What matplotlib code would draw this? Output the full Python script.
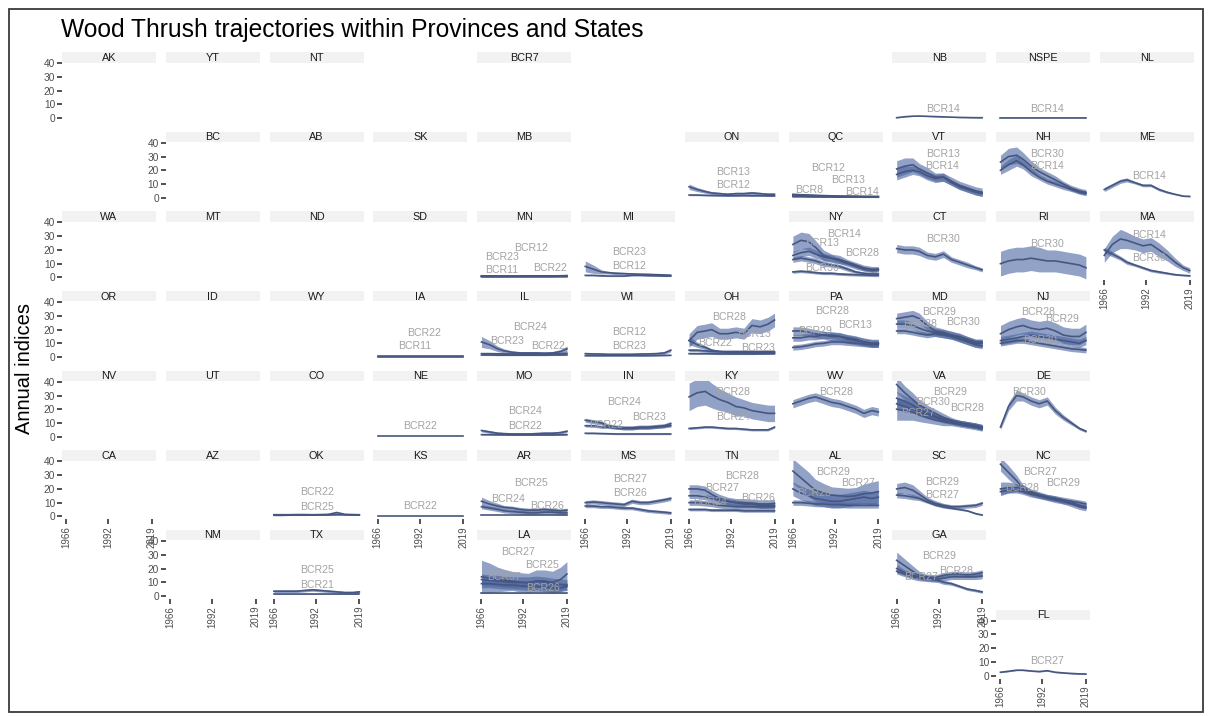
import matplotlib
matplotlib.use("Agg")
import matplotlib.pyplot as plt
from matplotlib.patches import Rectangle
import numpy as np

plt.rcParams['font.family'] = ['Liberation Sans', 'DejaVu Sans']

# ---------------- data ----------------
YEARS = [1966, 1971, 1976, 1980, 1985, 1990, 1995, 2000, 2005, 2010, 2015, 2019]

NB_BCR14 = [0.3, 1.0, 1.4, 1.5, 1.3, 1.1, 0.9, 0.7, 0.5, 0.4, 0.3, 0.3]
NB_BCR14_CI = [0.2, 0.2, 0.2, 0.2, 0.2, 0.2, 0.2, 0.2, 0.2, 0.2, 0.2, 0.2]
NSPE_BCR14 = [0.4, 0.4, 0.4, 0.4, 0.4, 0.4, 0.4, 0.4, 0.4, 0.4, 0.4, 0.4]
NSPE_BCR14_CI = [0.1, 0.1, 0.1, 0.1, 0.1, 0.1, 0.1, 0.1, 0.1, 0.1, 0.1, 0.1]

ON_BCR13 = [8, 6, 4.5, 3.5, 3, 2.5, 3, 3, 3.5, 3, 2.5, 2.5]
ON_BCR13_CI = [2, 1.5, 1.2, 1, 1, 1, 1, 1, 1, 1, 1, 1]
ON_BCR12 = [2, 2, 1.8, 1.7, 1.6, 1.5, 1.5, 1.6, 1.5, 1.5, 1.4, 1.4]
ON_BCR12_CI = [0.5, 0.5, 0.5, 0.5, 0.5, 0.5, 0.5, 0.5, 0.5, 0.5, 0.5, 0.5]

QC_BCR8 = [2.5, 2.2, 2.0, 1.8, 1.6, 1.4, 1.2, 1.1, 1.0, 0.9, 0.8, 0.7]
QC_BCR8_CI = [0.8, 0.8, 0.7, 0.7, 0.6, 0.6, 0.5, 0.5, 0.5, 0.5, 0.5, 0.5]
QC_BCR12 = [1.5, 1.4, 1.3, 1.2, 1.2, 1.1, 1.0, 1.0, 1.0, 0.9, 0.9, 0.9]
QC_BCR12_CI = [0.4, 0.4, 0.4, 0.4, 0.4, 0.4, 0.4, 0.4, 0.4, 0.4, 0.4, 0.4]
QC_BCR13 = [1.2, 1.2, 1.1, 1.0, 1.0, 1.0, 0.9, 0.9, 0.8, 0.8, 0.8, 0.8]
QC_BCR13_CI = [0.4, 0.4, 0.4, 0.4, 0.4, 0.4, 0.4, 0.4, 0.4, 0.4, 0.4, 0.4]
QC_BCR14 = [0.8, 0.8, 0.7, 0.7, 0.6, 0.6, 0.5, 0.5, 0.5, 0.4, 0.4, 0.4]
QC_BCR14_CI = [0.2, 0.2, 0.2, 0.2, 0.2, 0.2, 0.2, 0.2, 0.2, 0.2, 0.2, 0.2]

VT_BCR13 = [21, 23, 24, 21, 18, 15, 15, 12, 9, 7, 5, 4]
VT_BCR13_CI = [6, 6, 5, 4, 4, 3, 3, 3, 3, 3, 3, 3]
VT_BCR14 = [17, 19, 20, 19, 16, 14, 15, 11, 8, 6, 4, 3]
VT_BCR14_CI = [4, 4, 3, 3, 3, 3, 3, 2, 2, 2, 2, 2]

NH_BCR30 = [26, 30, 31, 28, 23, 19, 16, 13, 10, 7, 5, 4]
NH_BCR30_CI = [5, 6, 6, 5, 4, 3, 3, 3, 2, 2, 2, 2]
NH_BCR14 = [20, 24, 27, 24, 19, 15, 12, 10, 8, 6, 4, 3]
NH_BCR14_CI = [3, 4, 4, 3, 3, 2, 2, 2, 2, 1.5, 1.5, 1.5]

ME_BCR14 = [6, 9, 12, 13, 11, 9, 9, 6, 4, 2.5, 1.2, 1]
ME_BCR14_CI = [1.5, 1.5, 1.5, 1.5, 1, 1, 1, 1, 0.8, 0.5, 0.4, 0.4]

MN_BCR11 = [0.4, 0.4, 0.4, 0.4, 0.4, 0.4, 0.4, 0.4, 0.4, 0.4, 0.5, 0.5]
MN_BCR11_CI = [0.2, 0.2, 0.2, 0.2, 0.2, 0.2, 0.2, 0.2, 0.2, 0.2, 0.2, 0.2]
MN_BCR12 = [1.0, 1.0, 0.9, 0.9, 0.9, 1.0, 1.0, 1.1, 1.0, 1.0, 1.1, 1.2]
MN_BCR12_CI = [0.3, 0.3, 0.3, 0.3, 0.3, 0.3, 0.3, 0.3, 0.3, 0.3, 0.3, 0.3]
MN_BCR22 = [0.8, 0.8, 0.8, 0.9, 0.9, 1.0, 1.0, 1.0, 1.1, 1.1, 1.2, 1.3]
MN_BCR22_CI = [0.3, 0.3, 0.3, 0.3, 0.3, 0.3, 0.3, 0.3, 0.3, 0.3, 0.3, 0.3]
MN_BCR23 = [1.2, 1.1, 1.0, 1.0, 0.9, 0.9, 0.9, 1.0, 1.0, 1.0, 1.1, 1.2]
MN_BCR23_CI = [0.3, 0.3, 0.3, 0.3, 0.3, 0.3, 0.3, 0.3, 0.3, 0.3, 0.3, 0.3]

MI_BCR12 = [8, 6, 4, 3.5, 3, 2.8, 2.5, 2.3, 2.2, 2.0, 1.8, 1.6]
MI_BCR12_CI = [4, 3, 1.5, 1, 1, 0.8, 0.8, 0.8, 0.8, 0.7, 0.6, 0.6]
MI_BCR23 = [1.5, 1.5, 1.2, 1.0, 1.0, 1.0, 1.5, 1.5, 1.3, 1.2, 1.0, 1.0]
MI_BCR23_CI = [0.4, 0.4, 0.4, 0.4, 0.4, 0.4, 0.4, 0.4, 0.4, 0.4, 0.4, 0.4]

NY_BCR14 = [24, 27, 26, 22, 16, 14, 13, 11, 9, 7, 6, 6]
NY_BCR14_CI = [6, 6, 6, 5, 4, 3, 3, 2, 2, 2, 2, 2]
NY_BCR13 = [13, 14, 13, 12, 10, 9, 8, 6, 4, 3, 2.5, 2.5]
NY_BCR13_CI = [2, 2, 2, 2, 2, 1.5, 1.5, 1.5, 1, 1, 1, 1]
NY_BCR28 = [16, 18, 19, 17, 15, 14, 12, 10, 8, 6, 5, 5.5]
NY_BCR28_CI = [3, 3, 3, 3, 2.5, 2.5, 2, 2, 2, 1.5, 1.5, 1.5]
NY_BCR30 = [4, 4.5, 4, 3.5, 3, 3, 2.5, 2.2, 2.0, 1.8, 1.6, 1.5]
NY_BCR30_CI = [1, 1, 1, 1, 1, 1, 1, 1, 1, 1, 1, 1]

CT_BCR30 = [21, 20, 20, 19, 16, 15, 17, 13, 11, 9, 7, 5.5]
CT_BCR30_CI = [3, 3, 3, 3, 2.5, 2.5, 2.5, 2, 2, 2, 1.5, 1.5]

RI_BCR30 = [10, 12, 13, 13, 14, 13, 12, 12, 11, 10, 9, 7]
RI_BCR30_CI = [9, 9, 9, 9, 9, 9, 8, 8, 8, 8, 8, 8]

MA_BCR14 = [16, 24, 28, 27, 25, 23, 24, 20, 16, 11, 7, 5]
MA_BCR14_CI = [5, 6, 7, 6, 5, 5, 5, 5, 4, 3, 2, 2]
MA_BCR30 = [20, 17, 14, 11, 9, 7, 5, 4, 3, 2, 1.5, 1.2]
MA_BCR30_CI = [2, 2, 1.5, 1.5, 1, 1, 1, 1, 0.8, 0.6, 0.5, 0.5]

IA_BCR22 = [0.6, 0.6, 0.6, 0.6, 0.6, 0.6, 0.6, 0.6, 0.6, 0.6, 0.6, 0.6]
IA_BCR22_CI = [0.1, 0.1, 0.1, 0.1, 0.1, 0.1, 0.1, 0.1, 0.1, 0.1, 0.1, 0.1]
IA_BCR11 = [0.4, 0.4, 0.4, 0.4, 0.4, 0.4, 0.4, 0.4, 0.4, 0.4, 0.4, 0.4]
IA_BCR11_CI = [0.1, 0.1, 0.1, 0.1, 0.1, 0.1, 0.1, 0.1, 0.1, 0.1, 0.1, 0.1]

IL_BCR23 = [11, 9, 6, 4.5, 3.5, 3, 3, 3, 2.8, 3, 4, 6]
IL_BCR23_CI = [4, 3, 2, 1.5, 1, 1, 1, 1, 1, 1, 1.5, 2]
IL_BCR24 = [2.5, 2.5, 2.4, 2.3, 2.3, 2.2, 2.2, 2.3, 2.3, 2.4, 2.5, 2.8]
IL_BCR24_CI = [0.6, 0.6, 0.6, 0.6, 0.6, 0.6, 0.6, 0.6, 0.6, 0.6, 0.6, 0.6]
IL_BCR22 = [1.5, 1.5, 1.4, 1.4, 1.4, 1.4, 1.4, 1.4, 1.4, 1.5, 1.5, 1.6]
IL_BCR22_CI = [0.4, 0.4, 0.4, 0.4, 0.4, 0.4, 0.4, 0.4, 0.4, 0.4, 0.4, 0.4]

WI_BCR12 = [2.5, 2.3, 2.2, 2.0, 2.0, 2.0, 2.0, 2.2, 2.3, 2.5, 3.0, 5.0]
WI_BCR12_CI = [0.8, 0.8, 0.8, 0.8, 0.8, 0.8, 0.8, 0.8, 0.8, 0.8, 1.0, 1.2]
WI_BCR23 = [1.0, 1.0, 1.0, 1.0, 1.0, 1.0, 1.0, 1.0, 1.0, 1.1, 1.2, 1.3]
WI_BCR23_CI = [0.3, 0.3, 0.3, 0.3, 0.3, 0.3, 0.3, 0.3, 0.3, 0.3, 0.3, 0.3]

OH_BCR28 = [12, 18, 19, 20, 17, 17, 18, 17, 23, 22, 24, 27]
OH_BCR28_CI = [5, 5, 5, 5, 4, 4, 4, 4, 5, 5, 5, 5]
OH_BCR22 = [12, 9, 7, 5, 4, 3.5, 3.5, 3.5, 3, 3, 3, 3]
OH_BCR22_CI = [3, 2, 1.5, 1, 1, 1, 1, 1, 1, 1, 1, 1]
OH_BCR13 = [5, 5, 4.5, 4, 4, 4, 4, 4, 4, 4, 4, 4]
OH_BCR13_CI = [1, 1, 1, 1, 1, 1, 1, 1, 1, 1, 1, 1]
OH_BCR23 = [2.5, 2.5, 2.5, 2.4, 2.3, 2.3, 2.3, 2.3, 2.3, 2.4, 2.5, 2.6]
OH_BCR23_CI = [0.5, 0.5, 0.5, 0.5, 0.5, 0.5, 0.5, 0.5, 0.5, 0.5, 0.5, 0.5]

PA_BCR29 = [19, 19, 18, 17, 16, 15, 15, 13, 12, 11, 10, 10]
PA_BCR29_CI = [3, 3, 3, 3, 3, 3, 3, 3, 3, 3, 3, 3]
PA_BCR28 = [14, 14, 15, 15, 16, 16, 15, 14, 13, 11, 10, 10]
PA_BCR28_CI = [2.5, 2.5, 2.5, 2.5, 2.5, 2.5, 2.5, 2.5, 2.5, 2.5, 2.5, 2.5]
PA_BCR13 = [7, 7.5, 8.5, 9.5, 10, 11, 11, 10.5, 10, 9.5, 9, 9]
PA_BCR13_CI = [2, 2, 2, 2, 2, 2, 2, 2, 2, 2, 2, 2]

MD_BCR29 = [28, 29, 30, 28, 23, 19, 18, 16, 15, 13, 11, 11]
MD_BCR29_CI = [4, 4, 4, 4, 3, 3, 2.5, 2.5, 2.5, 2, 2, 2]
MD_BCR28 = [24, 24, 23, 21, 19, 18, 17, 16, 14, 12, 10, 10]
MD_BCR28_CI = [3, 3, 3, 3, 3, 3, 3, 3, 3, 3, 3, 3]
MD_BCR30 = [19, 19, 18, 17, 16, 17, 16, 15, 13, 11, 9, 8]
MD_BCR30_CI = [2, 2, 2, 2, 2, 2, 2, 2, 2, 2, 2, 2]

NJ_BCR28 = [17, 20, 22, 23, 21, 20, 21, 19, 16, 15, 15, 18]
NJ_BCR28_CI = [6, 6, 6, 6, 6, 6, 6, 6, 6, 6, 6, 6]
NJ_BCR29 = [12, 13, 14, 15, 16, 15, 14, 13, 12, 11, 10, 12]
NJ_BCR29_CI = [3, 3, 3, 3, 3, 3, 3, 3, 3, 3, 3, 3]
NJ_BCR30 = [10, 11, 12, 12, 11, 10, 9, 8, 7, 6, 5.5, 5]
NJ_BCR30_CI = [2, 2, 2, 2, 2, 2, 2, 2, 2, 2, 2, 2]

NE_BCR22 = [0.5, 0.5, 0.5, 0.5, 0.5, 0.5, 0.5, 0.5, 0.5, 0.5, 0.5, 0.5]
NE_BCR22_CI = [0.1, 0.1, 0.1, 0.1, 0.1, 0.1, 0.1, 0.1, 0.1, 0.1, 0.1, 0.1]

MO_BCR22 = [4.5, 3.5, 2.5, 2.2, 2.0, 2.0, 2.0, 2.2, 2.5, 2.5, 3.0, 4.0]
MO_BCR22_CI = [1, 1, 1, 1, 1, 1, 1, 1, 1, 1, 1, 1]
MO_BCR24 = [1.5, 1.5, 1.4, 1.4, 1.3, 1.3, 1.3, 1.3, 1.3, 1.3, 1.4, 1.5]
MO_BCR24_CI = [0.4, 0.4, 0.4, 0.4, 0.4, 0.4, 0.4, 0.4, 0.4, 0.4, 0.4, 0.4]

IN_BCR23 = [12, 11, 10, 8, 7, 6.5, 6.5, 7, 7, 7.5, 8, 9.5]
IN_BCR23_CI = [1.5, 1.5, 1.5, 1.5, 1.5, 1.5, 1.5, 1.5, 1.5, 1.5, 1.5, 1.5]
IN_BCR24 = [8, 8, 7, 7, 6.5, 6, 6, 6.5, 6.5, 7, 7.5, 8]
IN_BCR24_CI = [1, 1, 1, 1, 1, 1, 1, 1, 1, 1, 1, 1]
IN_BCR22 = [2.5, 2.5, 2.3, 2.2, 2.0, 2.0, 2.0, 2.0, 2.0, 2.0, 2.0, 2.0]
IN_BCR22_CI = [0.5, 0.5, 0.5, 0.5, 0.5, 0.5, 0.5, 0.5, 0.5, 0.5, 0.5, 0.5]

KY_BCR28 = [29, 32, 33, 30, 27, 25, 22, 21, 19, 18, 17, 17]
KY_BCR28_CI = [10, 10, 10, 9, 8, 7, 7, 6, 6, 6, 6, 6]
KY_BCR24 = [6, 6.5, 7, 7, 6.5, 6, 6, 5.5, 5, 5, 5, 7]
KY_BCR24_CI = [0.8, 0.8, 0.8, 0.8, 0.8, 0.8, 0.8, 0.8, 0.8, 0.8, 0.8, 0.8]

WV_BCR28 = [24, 26, 28, 29, 27, 25, 24, 22, 20, 17, 19, 18]
WV_BCR28_CI = [3, 3, 3, 3, 3, 3, 3, 3, 3, 3, 3, 3]

VA_BCR29 = [38, 32, 27, 23, 20, 17, 14, 12, 10, 9, 8, 7]
VA_BCR29_CI = [6, 5, 5, 4, 3, 3, 3, 2, 2, 2, 2, 2]
VA_BCR28 = [28, 26, 23, 20, 17, 15, 13, 11, 10, 9, 8, 6.5]
VA_BCR28_CI = [5, 4, 4, 3, 3, 2, 2, 2, 2, 2, 2, 2]
VA_BCR30 = [24, 22, 20, 18, 16, 14, 12, 11, 10, 9, 8, 7]
VA_BCR30_CI = [4, 4, 3, 3, 3, 2, 2, 2, 2, 2, 2, 2]
VA_BCR27 = [20, 19, 18, 16, 14, 12, 11, 10, 9, 8, 7, 6]
VA_BCR27_CI = [8, 7, 6, 5, 4, 3, 3, 2, 2, 2, 2, 2]

DE_BCR30 = [7, 22, 30, 29, 26, 24, 26, 19, 14, 10, 6, 4]
DE_BCR30_CI = [2, 3, 4, 3, 3, 3, 3, 2.5, 2, 1.5, 1, 1]

OK_BCR22 = [0.8, 0.8, 0.9, 0.9, 0.9, 1.0, 1.0, 1.0, 1.2, 1.1, 1.0, 1.0]
OK_BCR22_CI = [0.3, 0.3, 0.3, 0.3, 0.3, 0.3, 0.3, 0.3, 0.3, 0.3, 0.3, 0.3]
OK_BCR25 = [1.2, 1.2, 1.2, 1.3, 1.3, 1.2, 1.3, 1.5, 2.8, 1.5, 1.3, 1.2]
OK_BCR25_CI = [0.5, 0.5, 0.5, 0.5, 0.5, 0.5, 0.5, 0.5, 0.6, 0.5, 0.5, 0.5]

KS_BCR22 = [0.5, 0.5, 0.5, 0.5, 0.5, 0.5, 0.5, 0.5, 0.5, 0.5, 0.5, 0.5]
KS_BCR22_CI = [0.1, 0.1, 0.1, 0.1, 0.1, 0.1, 0.1, 0.1, 0.1, 0.1, 0.1, 0.1]

AR_BCR24 = [11, 9, 7.5, 6.5, 6, 5, 4.5, 4.5, 5, 4.5, 4, 4.5]
AR_BCR24_CI = [3, 2.5, 2, 1.5, 1.5, 1.5, 1.5, 1.5, 1.5, 1.5, 1.5, 1.5]
AR_BCR25 = [7, 6, 5, 4, 3.5, 3, 2.5, 2.5, 3, 3, 2.5, 2.5]
AR_BCR25_CI = [1.5, 1.5, 1.5, 1.5, 1.5, 1.5, 1.5, 1.5, 1.5, 1.5, 1.5, 1.5]
AR_BCR26 = [1, 1, 1, 1, 1, 1, 1, 1, 1, 1, 1, 1]
AR_BCR26_CI = [0.3, 0.3, 0.3, 0.3, 0.3, 0.3, 0.3, 0.3, 0.3, 0.3, 0.3, 0.3]

MS_BCR26 = [10, 10.5, 10, 9.5, 9, 8.5, 11, 10, 10, 11, 12, 13]
MS_BCR26_CI = [1.5, 1.5, 1.5, 1.5, 1.5, 1.5, 1.5, 1.5, 1.5, 1.5, 1.5, 1.5]
MS_BCR27 = [7.5, 7.5, 7, 7, 6.5, 6, 6, 5, 4, 3.5, 3, 2.5]
MS_BCR27_CI = [1.2, 1.2, 1.2, 1.2, 1.2, 1.2, 1.2, 1.2, 1.2, 1.2, 1.2, 1.2]

TN_BCR27 = [20, 20, 19, 16, 13, 11, 10, 10, 9.5, 9, 9, 9.5]
TN_BCR27_CI = [3, 3, 3, 3, 3, 3, 3, 3, 3, 3, 3, 3]
TN_BCR28 = [15, 15, 14, 13, 12, 11, 10, 9, 9, 8, 8, 8]
TN_BCR28_CI = [2, 2, 2, 2, 2, 2, 2, 2, 2, 2, 2, 2]
TN_BCR24 = [10, 10, 9.5, 9, 8, 7.5, 7, 7, 7, 7, 7, 7]
TN_BCR24_CI = [2, 2, 2, 2, 2, 2, 2, 2, 2, 2, 2, 2]
TN_BCR26 = [5, 5, 5, 4.5, 4.5, 4.5, 4.5, 4, 4, 4, 4, 4]
TN_BCR26_CI = [1, 1, 1, 1, 1, 1, 1, 1, 1, 1, 1, 1]

AL_BCR29 = [33, 28, 23, 19, 17, 15.5, 15, 14.5, 15, 16.5, 17, 18]
AL_BCR29_CI = [9, 9, 9, 8, 7, 6, 6, 6, 6, 7, 8, 8]
AL_BCR27 = [20, 17, 15, 13, 12, 11, 11, 12, 13, 14, 13, 14]
AL_BCR27_CI = [5, 5, 5, 5, 5, 5, 5, 5, 5, 5, 5, 5]
AL_BCR28 = [10, 10, 9.5, 9, 9, 8.5, 8.5, 8, 8, 8, 8, 8]
AL_BCR28_CI = [2, 2, 2, 2, 2, 2, 2, 2, 2, 2, 2, 2]

SC_BCR29 = [20, 21, 19, 16, 12, 9.5, 8, 7, 7, 7.5, 8, 9.5]
SC_BCR29_CI = [4, 4, 4, 3, 2, 2, 1.5, 1.5, 1.5, 1.5, 1.5, 1.5]
SC_BCR27 = [15.5, 15, 14, 13, 10.5, 8.5, 7, 6, 5, 4, 2, 1]
SC_BCR27_CI = [2, 2, 2, 1.5, 1, 1, 1, 0.8, 0.6, 0.5, 0.5, 0.5]

NC_BCR27 = [38, 32, 26, 20, 17, 15, 13.5, 12, 11, 10, 8, 7]
NC_BCR27_CI = [5, 5, 4, 3, 2, 2, 2, 2, 2, 1.5, 1.5, 1.5]
NC_BCR28 = [20, 21, 21, 20, 18, 16, 14, 13, 11, 9, 7, 6]
NC_BCR28_CI = [5, 4, 3, 3, 2, 2, 2, 2, 2, 2, 2, 2]
NC_BCR29 = [18, 19, 19, 18, 16, 15, 14, 13, 12, 11, 10, 9]
NC_BCR29_CI = [2, 2, 2, 2, 2, 2, 2, 2, 2, 2, 2, 2]

TX_BCR25 = [3.5, 3.5, 3.5, 3.5, 4, 4.5, 4, 3.5, 3, 2.5, 2.5, 3]
TX_BCR25_CI = [1, 1, 1, 1, 1, 1, 1, 1, 1, 1, 1, 1]
TX_BCR21 = [1.2, 1.2, 1.2, 1.2, 1.2, 1.2, 1.2, 1.2, 1.2, 1.2, 1.2, 1.2]
TX_BCR21_CI = [0.3, 0.3, 0.3, 0.3, 0.3, 0.3, 0.3, 0.3, 0.3, 0.3, 0.3, 0.3]

LA_BCR27 = [14, 13, 12, 11.5, 11, 10, 9.5, 11, 11, 10, 12, 16]
LA_BCR27_CI = [12, 11, 9, 8, 7, 7, 7, 8, 8, 8, 9, 9]
LA_BCR37 = [12, 11.5, 11, 10.5, 10, 10, 10, 10.5, 10, 9, 8.5, 8]
LA_BCR37_CI = [4, 4, 4, 4, 4, 4, 4, 4, 4, 4, 4, 4]
LA_BCR25 = [9, 9, 8.5, 8, 8, 7.5, 7, 7, 6.5, 6, 6, 7]
LA_BCR25_CI = [3, 3, 3, 3, 3, 3, 3, 3, 3, 3, 3, 3]
LA_BCR26 = [2, 2, 2, 2, 2, 2, 2, 2, 2, 2, 2, 2]
LA_BCR26_CI = [0.5, 0.5, 0.5, 0.5, 0.5, 0.5, 0.5, 0.5, 0.5, 0.5, 0.5, 0.5]

GA_BCR27 = [26, 22, 18, 15, 13, 12, 10, 9, 7, 5, 4, 3]
GA_BCR27_CI = [6, 5, 4, 3, 2, 1.5, 1.5, 1.2, 1, 1, 1, 1]
GA_BCR29 = [20, 17, 15, 14, 14, 13.5, 15, 16, 16, 15.5, 16, 17]
GA_BCR29_CI = [3, 2, 2, 2, 2, 2, 2, 2, 2, 2, 2, 2]
GA_BCR28 = [18, 16, 14, 13, 12.5, 12, 13, 14, 14, 14, 14, 14.5]
GA_BCR28_CI = [2, 2, 2, 2, 2, 2, 2, 2, 2, 2, 2, 2]

FL_BCR27 = [2.5, 3.2, 4, 4, 3.4, 3, 3.6, 2.5, 2, 1.6, 1.3, 1.2]
FL_BCR27_CI = [0.4, 0.4, 0.4, 0.4, 0.4, 0.4, 0.4, 0.4, 0.4, 0.4, 0.4, 0.4]

X_TICKS = [1966, 1992, 2019]
Y_TICKS = [0, 10, 20, 30, 40]

# series per panel, built from the named arrays above
SERIES = {
    'NB': [('BCR14', NB_BCR14, NB_BCR14_CI)],
    'NSPE': [('BCR14', NSPE_BCR14, NSPE_BCR14_CI)],
    'ON': [('BCR13', ON_BCR13, ON_BCR13_CI), ('BCR12', ON_BCR12, ON_BCR12_CI)],
    'QC': [('BCR8', QC_BCR8, QC_BCR8_CI), ('BCR12', QC_BCR12, QC_BCR12_CI),
           ('BCR13', QC_BCR13, QC_BCR13_CI), ('BCR14', QC_BCR14, QC_BCR14_CI)],
    'VT': [('BCR13', VT_BCR13, VT_BCR13_CI), ('BCR14', VT_BCR14, VT_BCR14_CI)],
    'NH': [('BCR30', NH_BCR30, NH_BCR30_CI), ('BCR14', NH_BCR14, NH_BCR14_CI)],
    'ME': [('BCR14', ME_BCR14, ME_BCR14_CI)],
    'MN': [('BCR11', MN_BCR11, MN_BCR11_CI), ('BCR12', MN_BCR12, MN_BCR12_CI),
           ('BCR22', MN_BCR22, MN_BCR22_CI), ('BCR23', MN_BCR23, MN_BCR23_CI)],
    'MI': [('BCR12', MI_BCR12, MI_BCR12_CI), ('BCR23', MI_BCR23, MI_BCR23_CI)],
    'NY': [('BCR14', NY_BCR14, NY_BCR14_CI), ('BCR13', NY_BCR13, NY_BCR13_CI),
           ('BCR28', NY_BCR28, NY_BCR28_CI), ('BCR30', NY_BCR30, NY_BCR30_CI)],
    'CT': [('BCR30', CT_BCR30, CT_BCR30_CI)],
    'RI': [('BCR30', RI_BCR30, RI_BCR30_CI)],
    'MA': [('BCR14', MA_BCR14, MA_BCR14_CI), ('BCR30', MA_BCR30, MA_BCR30_CI)],
    'IA': [('BCR22', IA_BCR22, IA_BCR22_CI), ('BCR11', IA_BCR11, IA_BCR11_CI)],
    'IL': [('BCR23', IL_BCR23, IL_BCR23_CI), ('BCR24', IL_BCR24, IL_BCR24_CI),
           ('BCR22', IL_BCR22, IL_BCR22_CI)],
    'WI': [('BCR12', WI_BCR12, WI_BCR12_CI), ('BCR23', WI_BCR23, WI_BCR23_CI)],
    'OH': [('BCR28', OH_BCR28, OH_BCR28_CI), ('BCR22', OH_BCR22, OH_BCR22_CI),
           ('BCR13', OH_BCR13, OH_BCR13_CI), ('BCR23', OH_BCR23, OH_BCR23_CI)],
    'PA': [('BCR29', PA_BCR29, PA_BCR29_CI), ('BCR28', PA_BCR28, PA_BCR28_CI),
           ('BCR13', PA_BCR13, PA_BCR13_CI)],
    'MD': [('BCR29', MD_BCR29, MD_BCR29_CI), ('BCR28', MD_BCR28, MD_BCR28_CI),
           ('BCR30', MD_BCR30, MD_BCR30_CI)],
    'NJ': [('BCR28', NJ_BCR28, NJ_BCR28_CI), ('BCR29', NJ_BCR29, NJ_BCR29_CI),
           ('BCR30', NJ_BCR30, NJ_BCR30_CI)],
    'NE': [('BCR22', NE_BCR22, NE_BCR22_CI)],
    'MO': [('BCR22', MO_BCR22, MO_BCR22_CI), ('BCR24', MO_BCR24, MO_BCR24_CI)],
    'IN': [('BCR23', IN_BCR23, IN_BCR23_CI), ('BCR24', IN_BCR24, IN_BCR24_CI),
           ('BCR22', IN_BCR22, IN_BCR22_CI)],
    'KY': [('BCR28', KY_BCR28, KY_BCR28_CI), ('BCR24', KY_BCR24, KY_BCR24_CI)],
    'WV': [('BCR28', WV_BCR28, WV_BCR28_CI)],
    'VA': [('BCR29', VA_BCR29, VA_BCR29_CI), ('BCR28', VA_BCR28, VA_BCR28_CI),
           ('BCR30', VA_BCR30, VA_BCR30_CI), ('BCR27', VA_BCR27, VA_BCR27_CI)],
    'DE': [('BCR30', DE_BCR30, DE_BCR30_CI)],
    'OK': [('BCR22', OK_BCR22, OK_BCR22_CI), ('BCR25', OK_BCR25, OK_BCR25_CI)],
    'KS': [('BCR22', KS_BCR22, KS_BCR22_CI)],
    'AR': [('BCR24', AR_BCR24, AR_BCR24_CI), ('BCR25', AR_BCR25, AR_BCR25_CI),
           ('BCR26', AR_BCR26, AR_BCR26_CI)],
    'MS': [('BCR26', MS_BCR26, MS_BCR26_CI), ('BCR27', MS_BCR27, MS_BCR27_CI)],
    'TN': [('BCR27', TN_BCR27, TN_BCR27_CI), ('BCR28', TN_BCR28, TN_BCR28_CI),
           ('BCR24', TN_BCR24, TN_BCR24_CI), ('BCR26', TN_BCR26, TN_BCR26_CI)],
    'AL': [('BCR29', AL_BCR29, AL_BCR29_CI), ('BCR27', AL_BCR27, AL_BCR27_CI),
           ('BCR28', AL_BCR28, AL_BCR28_CI)],
    'SC': [('BCR29', SC_BCR29, SC_BCR29_CI), ('BCR27', SC_BCR27, SC_BCR27_CI)],
    'NC': [('BCR27', NC_BCR27, NC_BCR27_CI), ('BCR28', NC_BCR28, NC_BCR28_CI),
           ('BCR29', NC_BCR29, NC_BCR29_CI)],
    'TX': [('BCR25', TX_BCR25, TX_BCR25_CI), ('BCR21', TX_BCR21, TX_BCR21_CI)],
    'LA': [('BCR27', LA_BCR27, LA_BCR27_CI), ('BCR37', LA_BCR37, LA_BCR37_CI),
           ('BCR25', LA_BCR25, LA_BCR25_CI), ('BCR26', LA_BCR26, LA_BCR26_CI)],
    'GA': [('BCR27', GA_BCR27, GA_BCR27_CI), ('BCR29', GA_BCR29, GA_BCR29_CI),
           ('BCR28', GA_BCR28, GA_BCR28_CI)],
    'FL': [('BCR27', FL_BCR27, FL_BCR27_CI)],
}

# ---------------- layout (repelled label anchors, grid) ----------------
LABEL_POS = {
    'NB': [('BCR14', 1995, 7)], 'NSPE': [('BCR14', 1995, 6.5)],
    'ON': [('BCR13', 1993, 19), ('BCR12', 1993, 9.5)],
    'QC': [('BCR12', 1988, 22), ('BCR13', 2000, 13), ('BCR8', 1976, 6), ('BCR14', 2009, 4.5)],
    'VT': [('BCR13', 1994.5, 32), ('BCR14', 1994, 23)],
    'NH': [('BCR30', 1995, 32), ('BCR14', 1995, 23)],
    'ME': [('BCR14', 1994, 16)],
    'MN': [('BCR23', 1978.5, 15), ('BCR12', 1997, 21.5), ('BCR11', 1978.5, 5.3), ('BCR22', 2008.5, 6.5)],
    'MI': [('BCR23', 1993, 18.7), ('BCR12', 1993, 8.5)],
    'NY': [('BCR14', 1998, 31.4), ('BCR13', 1984, 25), ('BCR28', 2009, 17.7), ('BCR30', 1984, 6.7)],
    'CT': [('BCR30', 1994.5, 27.8)], 'RI': [('BCR30', 1995, 24.5)],
    'MA': [('BCR14', 1994, 31), ('BCR30', 1994, 14)],
    'IA': [('BCR22', 1995, 17.5), ('BCR11', 1989, 8)],
    'IL': [('BCR24', 1996, 22), ('BCR23', 1981.6, 11.7), ('BCR22', 2007.5, 8)],
    'WI': [('BCR12', 1993, 18.5), ('BCR23', 1993, 8.3)],
    'OH': [('BCR28', 1991, 29), ('BCR22', 1982, 10.5), ('BCR23', 2009, 6.8), ('BCR13', 2006, 16.5)],
    'PA': [('BCR28', 1990, 33.2), ('BCR13', 2004.5, 23.5), ('BCR29', 1980, 19.3)],
    'MD': [('BCR29', 1992.5, 32.5), ('BCR28', 1980.5, 24), ('BCR30', 2007, 25.7)],
    'NJ': [('BCR28', 1989.5, 32.5), ('BCR29', 2004, 27.4), ('BCR30', 1990.6, 12.4)],
    'NE': [('BCR22', 1992, 7.7)],
    'MO': [('BCR24', 1993.3, 19), ('BCR22', 1993, 8)],
    'IN': [('BCR24', 1990, 25), ('BCR23', 2005.6, 14), ('BCR22', 1979, 8.5)],
    'KY': [('BCR28', 1993.5, 32.7), ('BCR24', 1993.5, 14.5)],
    'WV': [('BCR28', 1993, 32.8)],
    'VA': [('BCR29', 1999, 32.8), ('BCR30', 1988.7, 25.5), ('BCR28', 2009.4, 20.7), ('BCR27', 1979.4, 17)],
    'DE': [('BCR30', 1984, 32.8)],
    'OK': [('BCR22', 1992.6, 17.5), ('BCR25', 1992.6, 7)],
    'KS': [('BCR22', 1992.5, 7.7)],
    'AR': [('BCR25', 1996.7, 24), ('BCR24', 1982.4, 13), ('BCR26', 2006.7, 7.7)],
    'MS': [('BCR27', 1993.5, 27), ('BCR26', 1993.5, 16.7)],
    'TN': [('BCR28', 1998.9, 29.6), ('BCR27', 1986.7, 20.4), ('BCR26', 2008.9, 13.1), ('BCR24', 1979, 10.6)],
    'AL': [('BCR29', 1991, 32.5), ('BCR27', 2006.5, 24), ('BCR28', 1979, 16.7)],
    'SC': [('BCR29', 1994, 25.2), ('BCR27', 1994, 15.5)],
    'NC': [('BCR27', 1990.8, 32.5), ('BCR29', 2005, 24), ('BCR28', 1979.6, 20.4)],
    'TX': [('BCR25', 1992.6, 19), ('BCR21', 1992.6, 8)],
    'LA': [('BCR27', 1989, 32.3), ('BCR25', 2003.4, 22.6), ('BCR37', 1980, 13.6), ('BCR26', 2004.5, 5.6)],
    'GA': [('BCR29', 1992, 29.4), ('BCR28', 2003, 18.2), ('BCR27', 1981, 14)],
    'FL': [('BCR27', 1994.7, 10.8)],
}

GRID = {
    'AK': (0, 0), 'YT': (0, 1), 'NT': (0, 2), 'BCR7': (0, 4), 'NB': (0, 8), 'NSPE': (0, 9), 'NL': (0, 10),
    'BC': (1, 1), 'AB': (1, 2), 'SK': (1, 3), 'MB': (1, 4), 'ON': (1, 6), 'QC': (1, 7), 'VT': (1, 8),
    'NH': (1, 9), 'ME': (1, 10),
    'WA': (2, 0), 'MT': (2, 1), 'ND': (2, 2), 'SD': (2, 3), 'MN': (2, 4), 'MI': (2, 5), 'NY': (2, 7),
    'CT': (2, 8), 'RI': (2, 9), 'MA': (2, 10),
    'OR': (3, 0), 'ID': (3, 1), 'WY': (3, 2), 'IA': (3, 3), 'IL': (3, 4), 'WI': (3, 5), 'OH': (3, 6),
    'PA': (3, 7), 'MD': (3, 8), 'NJ': (3, 9),
    'NV': (4, 0), 'UT': (4, 1), 'CO': (4, 2), 'NE': (4, 3), 'MO': (4, 4), 'IN': (4, 5), 'KY': (4, 6),
    'WV': (4, 7), 'VA': (4, 8), 'DE': (4, 9),
    'CA': (5, 0), 'AZ': (5, 1), 'OK': (5, 2), 'KS': (5, 3), 'AR': (5, 4), 'MS': (5, 5), 'TN': (5, 6),
    'AL': (5, 7), 'SC': (5, 8), 'NC': (5, 9),
    'NM': (6, 1), 'TX': (6, 2), 'LA': (6, 4), 'GA': (6, 8),
    'FL': (7, 9),
}
Y_AXIS_PANELS = {'AK', 'BC', 'WA', 'OR', 'NV', 'CA', 'NM', 'FL'}
X_AXIS_PANELS = {'CA', 'NM', 'TX', 'KS', 'LA', 'MS', 'TN', 'AL', 'GA', 'FL', 'MA'}

# ---------------- drawing ----------------
W, H = 1208, 716
fig = plt.figure(figsize=(W / 100, H / 100), dpi=100)

COL0, COLSTEP, PW = 62.0, 103.8, 94.0
ROW0, ROWSTEP = 52.0, 79.65
STRIP_H = 10.5
PLOT_H = 58.5

LINE_C = '#46567f'
FILL_C = '#4a64a0'
LABEL_C = '#a3a3a3'
TICK_C = '#333333'
TICKLAB_C = '#4d4d4d'

yrs = np.array(YEARS)

for name, (r, c) in GRID.items():
    left = COL0 + COLSTEP * c
    strip_top = ROW0 + ROWSTEP * r
    plot_top = strip_top + STRIP_H
    plot_bot = plot_top + PLOT_H
    ax = fig.add_axes([left / W, 1 - plot_bot / H, PW / W, PLOT_H / H])
    ax.set_xlim(1963.35, 2021.65)
    ax.set_ylim(-2.1, 40.5)
    ax.patch.set_visible(False)
    for s in ax.spines.values():
        s.set_visible(False)

    # strip
    fig.add_artist(Rectangle((left / W, 1 - plot_top / H), PW / W, STRIP_H / H,
                             transform=fig.transFigure, facecolor='#f2f2f2',
                             edgecolor='none', zorder=0))
    fig.text((left + PW / 2) / W, 1 - (strip_top + STRIP_H / 2 + 0.3) / H, name,
             ha='center', va='center', fontsize=7.8, color='#1a1a1a')

    series = SERIES.get(name, [])
    for lab, m, ci in series:
        m = np.array(m, dtype=float)
        ci = np.array(ci, dtype=float)
        ax.fill_between(yrs, m - ci, m + ci, color=FILL_C, alpha=0.6, linewidth=0, zorder=1)
    for lab, m, ci in series:
        ax.plot(yrs, m, color=LINE_C, lw=1.2, zorder=2, solid_joinstyle='round')
    for lab, yx, yv in LABEL_POS.get(name, []):
        ax.text(yx, yv, lab, ha='center', va='center', fontsize=7.6,
                color=LABEL_C, zorder=3, clip_on=False)

    if name in Y_AXIS_PANELS:
        ax.set_yticks(Y_TICKS)
        ax.tick_params(axis='y', length=3.5, width=1.2, color=TICK_C,
                       labelsize=7.3, labelcolor=TICKLAB_C, pad=1.5)
    else:
        ax.set_yticks([])
    if name in X_AXIS_PANELS:
        ax.set_xticks(X_TICKS)
        ax.set_xticklabels([str(t) for t in X_TICKS], rotation=90)
        ax.tick_params(axis='x', length=3.5, width=1.2, color=TICK_C,
                       labelsize=7.0, labelcolor=TICKLAB_C, pad=1.5)
    else:
        ax.set_xticks([])

fig.text(61 / W, 1 - 37 / H, 'Wood Thrush trajectories within Provinces and States',
         ha='left', va='baseline', fontsize=17.7, color='black')
fig.text(25 / W, 1 - 369 / H, 'Annual indices', rotation=90, ha='center', va='center',
         fontsize=14.5, color='black')

# outer frame
fig.add_artist(Rectangle((9 / W, 1 - 712 / H), (1203 - 9) / W, (712 - 9) / H,
                         transform=fig.transFigure, facecolor='none',
                         edgecolor='#3a3a3a', linewidth=1.3, zorder=10))

fig.savefig('out.png', dpi=100)
